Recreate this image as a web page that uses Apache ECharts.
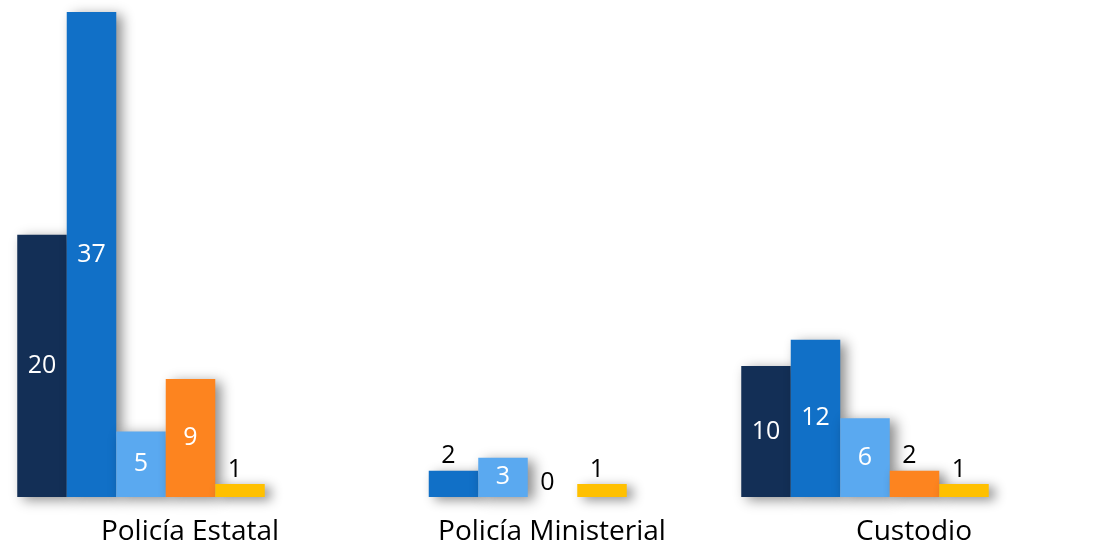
<!DOCTYPE html>
<html>
<head>
<meta charset="utf-8">
<script src="https://cdn.jsdelivr.net/npm/echarts@6/dist/echarts.min.js"></script>
<style>html,body{margin:0;padding:0;background:#fff}#c{width:1102px;height:549px}</style>
</head>
<body>
<div id="c"></div>
<script>
const categories = ['Policía Estatal', 'Policía Ministerial', 'Custodio'];
const serieNavy = [20, null, 10];
const serieBlue = [37, 2, 12];
const serieLight = [5, 3, 6];
const serieOrange = [9, 0, 2];
const serieYellow = [1, 1, 1];
const colors = ['#132f56', '#1170c7', '#5aa9f0', '#fd841f', '#ffc000'];
const allSeries = [serieNavy, serieBlue, serieLight, serieOrange, serieYellow];

const FONT = 'Open Sans';
function buildData(arr) {
  return arr.map(v => {
    if (v === null) return { value: null, label: { show: false } };
    if (v > 2) return { value: v, label: { position: 'inside', color: '#ffffff' } };
    return { value: v, label: { position: 'top', color: '#000000', distance: 2, offset: [-5, 0] } };
  });
}

const chart = echarts.init(document.getElementById('c'), null, { renderer: 'canvas' });
chart.setOption({
  animation: false,
  backgroundColor: '#ffffff',
  grid: { left: -40, width: 1086, top: 12, bottom: 52, containLabel: false, outerBoundsMode: 'none' },
  xAxis: {
    type: 'category',
    data: categories,
    axisLine: { show: false },
    axisTick: { show: false },
    axisLabel: {
      color: '#000000', fontFamily: FONT, fontSize: 28, margin: 21,
      padding: [0, 0, 0, 98], interval: 0
    }
  },
  yAxis: { type: 'value', min: 0, max: 37, show: false, splitLine: { show: false } },
  series: allSeries.map((arr, i) => ({
    type: 'bar',
    data: buildData(arr),
    barWidth: 49.5,
    barGap: '0%',
    itemStyle: {
      color: colors[i],
      shadowColor: 'rgba(0,0,0,0.45)', shadowBlur: 12, shadowOffsetX: 6, shadowOffsetY: 3
    },
    label: { show: true, fontFamily: FONT, fontSize: 25, color: '#ffffff' }
  }))
});
</script>
</body>
</html>
